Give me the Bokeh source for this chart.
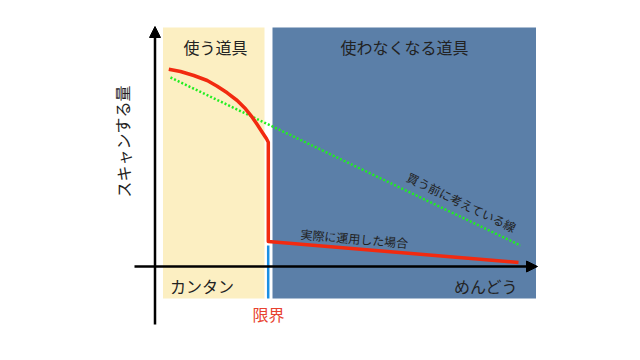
from bokeh.plotting import figure
from bokeh.models import Range1d, Arrow, NormalHead
from bokeh.core.properties import value
from bokeh.embed import file_html
from bokeh.resources import INLINE

FONT = "Noto Sans CJK JP"

# Regions (effort on x, amount on y; origin at the axis crossing)
region_left = [8, 117.5]
region_right = [109.5, 381]
region_bottom = [-32, -32]
region_top = [239, 239]
region_colors = ["#fcefc2", "#5b7fa8"]
region_labels = ["使う道具", "使わなくなる道具"]
region_label_x = [60.5, 249.5]
region_label_y = [220, 220]

# Actual usage curve (red)
actual_x = [13.8, 25.5, 38.8, 52.2, 62.2, 72.2, 82.2, 90.5, 97.2, 102.2, 107.2, 111.5, 113.3, 113.3, 363.5]
actual_y = [197.3, 195, 191, 186, 180.3, 173.7, 166, 157.7, 149.3, 142, 134.3, 127.7, 124.3, 25, 4]

# Expected line before buying (green dotted)
expected_x = [15.5, 365.5]
expected_y = [189, 21]

# Limit marker
limit_x = [113.2, 113.2]
limit_y = [21, -32]

# Axis extents
xaxis_x = [-20.5, 382.5]
yaxis_y = [-58, 240]

# Axis end labels
end_labels = ["カンタン", "めんどう"]
end_label_x = [47, 331]
end_label_y = [-19, -19]

p = figure(width=624, height=344, output_backend="svg", toolbar_location=None,
           x_range=Range1d(-154.5, 469.5), y_range=Range1d(-78, 266),
           x_axis_location=None, y_axis_location=None, min_border=0,
           outline_line_color=None, background_fill_color="white",
           border_fill_color="white")
p.grid.visible = False

# Regions
p.quad(left=region_left, right=region_right, bottom=region_bottom, top=region_top,
       fill_color=region_colors, line_color=None)

p.text(x=region_label_x, y=region_label_y, text=region_labels,
       text_font=value(FONT), text_font_size="16px", text_color="#222222",
       text_align="center", text_baseline="middle")

# Axes as arrows
p.add_layout(Arrow(end=NormalHead(size=11, fill_color="black", line_color="black"),
                   x_start=xaxis_x[0], y_start=0, x_end=xaxis_x[1], y_end=0,
                   line_width=2.5, line_color="black"))
p.add_layout(Arrow(end=NormalHead(size=11, fill_color="black", line_color="black"),
                   x_start=0, y_start=yaxis_y[0], x_end=0, y_end=yaxis_y[1],
                   line_width=2.5, line_color="black"))

# Limit
p.line(limit_x, limit_y, line_color="#1a8fe3", line_width=2.5)

# Expected (green dotted)
p.line(expected_x, expected_y, line_color="#22ee22", line_width=2.5, line_dash="2 2")

# Actual (red)
p.line(actual_x, actual_y, line_color="#f22a10", line_width=3.5, line_join="round")

# Annotations along lines
p.text(x=[199.5], y=[28.5], text=["実際に運用した場合"], angle=-0.084,
       text_font=value(FONT), text_font_size="12px", text_color="#222222",
       text_align="center", text_baseline="middle")
p.text(x=[307], y=[64.5], text=["買う前に考えている線"], angle=-0.45,
       text_font=value(FONT), text_font_size="12px", text_color="#222222",
       text_align="center", text_baseline="middle")

# Axis end labels
p.text(x=end_label_x, y=end_label_y, text=end_labels,
       text_font=value(FONT), text_font_size="16px", text_color="#222222",
       text_align="center", text_baseline="middle")

p.text(x=[113.5], y=[-47], text=["限界"],
       text_font=value(FONT), text_font_size="16px", text_color="#e8412e",
       text_align="center", text_baseline="middle")

p.text(x=[-32.5], y=[125], text=["スキャンする量"], angle=1.5708,
       text_font=value(FONT), text_font_size="16px", text_color="#222222",
       text_align="center", text_baseline="middle")

open("out.html", "w").write(file_html(p, INLINE))
